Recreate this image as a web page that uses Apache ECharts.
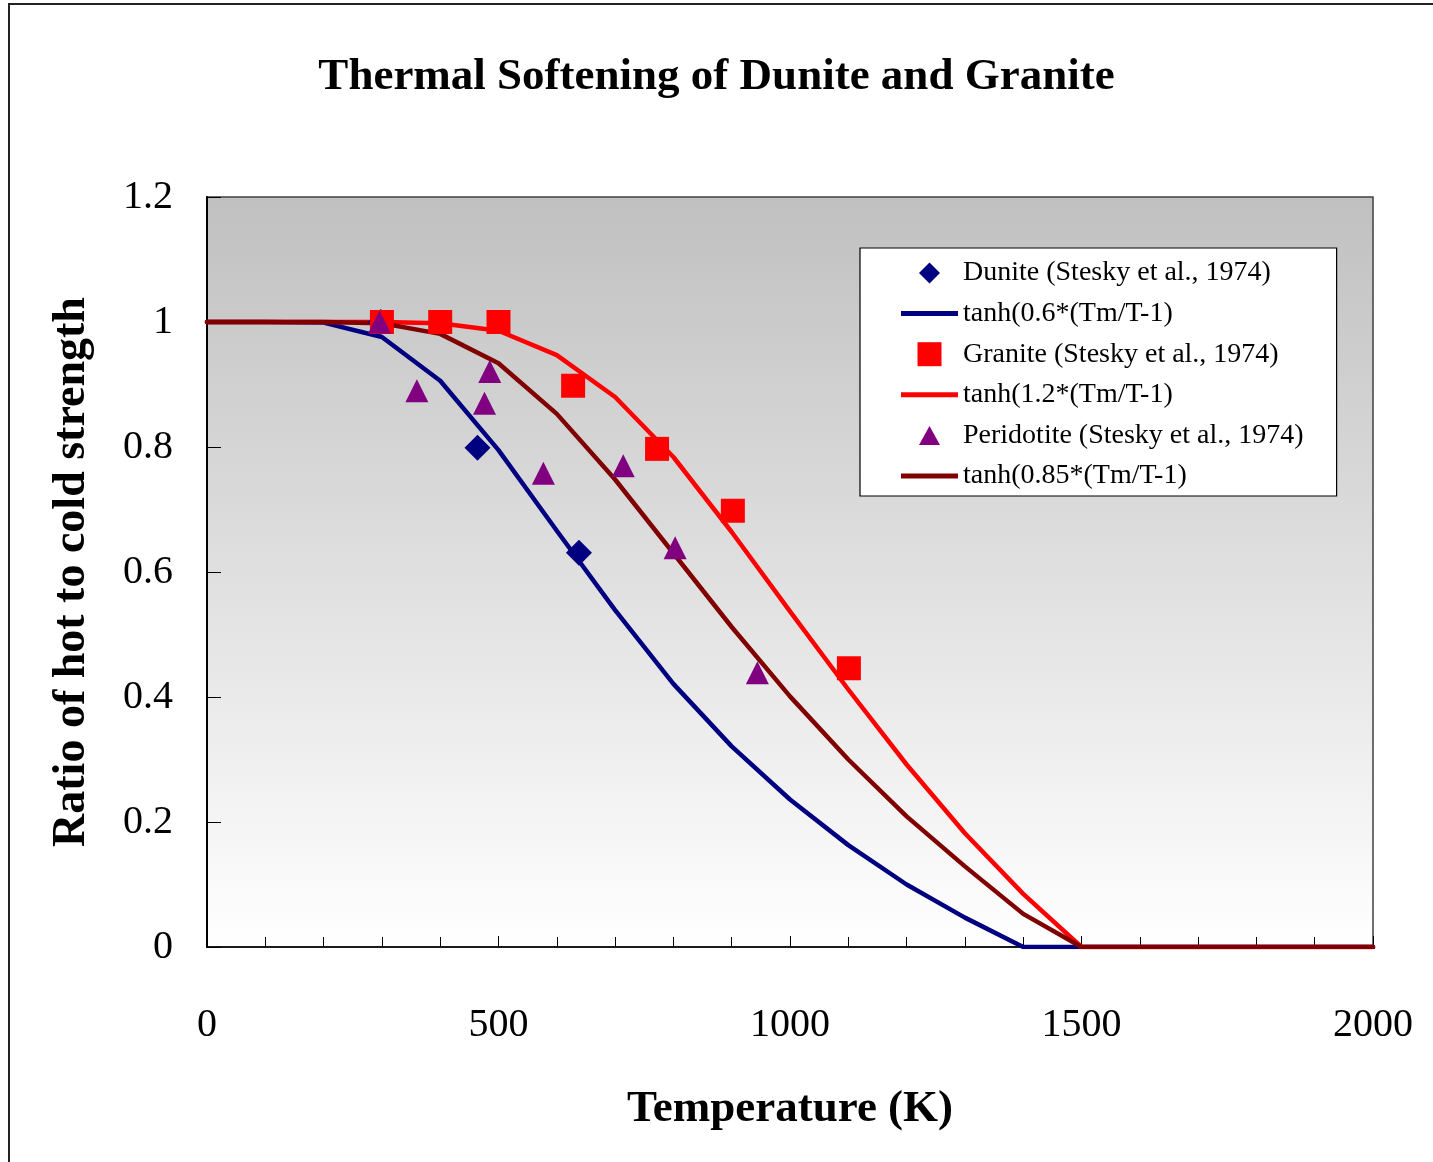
<!DOCTYPE html>
<html>
<head>
<meta charset="utf-8">
<script src="https://cdn.jsdelivr.net/npm/echarts@6/dist/echarts.min.js"></script>
<style>
html,body{margin:0;padding:0;background:#fff;}
#chart{width:1433px;height:1162px;}
</style>
</head>
<body>
<div id="chart"></div>
<script>
// Temperature grid for the model curves (K)
const temps = [0,100,200,300,400,500,600,700,800,900,1000,1100,1200,1300,1400,1500,1600,1700,1800,1900,2000];
// Model curves
const curveDunite    = [1.0,1.0,0.999,0.976,0.906,0.795,0.666,0.539,0.421,0.321,0.236,0.163,0.100,0.047,0,0,0,0,0,0,0];
const curveGranite   = [1.0,1.0,1.0,1.0,0.998,0.986,0.947,0.880,0.784,0.664,0.537,0.412,0.292,0.182,0.085,0,0,0,0,0,0];
const curvePeridot   = [1.0,1.0,1.0,0.998,0.981,0.934,0.853,0.748,0.630,0.512,0.401,0.300,0.209,0.129,0.053,0,0,0,0,0,0];
// Measured points (T, ratio)
const duniteT = [298,464,638];
const duniteV = [1.0,0.799,0.631];
const graniteT = [300,400,500,628,772,902,1101];
const graniteV = [1.0,1.0,1.0,0.898,0.797,0.698,0.446];
const peridT = [296,360,476,485,577,714,803,944];
const peridV = [1.0,0.890,0.870,0.921,0.758,0.770,0.639,0.439];
// Labels
const seriesNames = [
  'Dunite (Stesky et al., 1974)',
  'tanh(0.6*(Tm/T-1)',
  'Granite (Stesky et al., 1974)',
  'tanh(1.2*(Tm/T-1)',
  'Peridotite (Stesky et al., 1974)',
  'tanh(0.85*(Tm/T-1)'
];
const titleText = 'Thermal Softening of Dunite and Granite';
const xName = 'Temperature (K)';
const yName = 'Ratio of hot to cold strength';

const zip = (a,b) => a.map((v,i)=>[v,b[i]]);
const FONT = '"Liberation Serif", "Times New Roman", serif';
const LINE_ICON = 'path://M0,0 L114,0 L114,10 L0,10 Z';
const DIAMOND_ICON = 'path://M0,0 M24,24 M12,1.5 L22.5,12 L12,22.5 L1.5,12 Z';
const SQUARE_ICON = 'path://M0,0 L24,0 L24,24 L0,24 Z';
const TRIANGLE_ICON = 'path://M0,0 M24,24 M12,2.5 L22.5,21.5 L1.5,21.5 Z';

const chart = echarts.init(document.getElementById('chart'), null, {renderer:'canvas'});
const lineCommon = (name, ys, color) => ({
  name, type:'line', data: zip(temps, ys), symbol:'none', showSymbol:false,
  lineStyle:{color, width:4.5, join:'round', cap:'round'}, itemStyle:{color}, z:2, animation:false
});
const scatterCommon = (name, xs, ys, color, symbol, size) => ({
  name, type:'scatter', data: zip(xs, ys), symbol, symbolSize:size,
  itemStyle:{color, opacity:1}, z:3, animation:false
});

chart.setOption({
  animation:false,
  backgroundColor:'#ffffff',
  title:{
    text:titleText, left:'center', top:50,
    textStyle:{fontFamily:FONT, fontSize:45, fontWeight:'bold', color:'#000'}
  },
  graphic:[{
    type:'rect', shape:{x:9, y:4, width:1600, height:1400},
    style:{fill:'none', stroke:'#222', lineWidth:2}, z:-1, silent:true
  }],
  grid:{
    left:207, top:197, width:1166, height:750, show:true,
    borderColor:'#404040', borderWidth:1.5,
    backgroundColor:{type:'linear', x:0, y:0, x2:0, y2:1,
      colorStops:[{offset:0, color:'#c0c0c0'},{offset:1, color:'#ffffff'}]}
  },
  legend:{
    orient:'vertical', left:860, top:248,
    padding:[11, 33, 6, 41],
    itemWidth:57, itemHeight:24, itemGap:12.6,
    symbolKeepAspect:true,
    backgroundColor:'#ffffff', borderColor:'#000', borderWidth:1.2,
    textStyle:{fontFamily:FONT, fontSize:28, color:'#000', lineHeight:27},
    data:[
      {name:seriesNames[0], icon:DIAMOND_ICON},
      {name:seriesNames[1], icon:LINE_ICON},
      {name:seriesNames[2], icon:SQUARE_ICON},
      {name:seriesNames[3], icon:LINE_ICON},
      {name:seriesNames[4], icon:TRIANGLE_ICON},
      {name:seriesNames[5], icon:LINE_ICON}
    ]
  },
  xAxis:{
    type:'value', min:0, max:2000, interval:500,
    name:xName, nameLocation:'middle', nameGap:140,
    nameTextStyle:{fontFamily:FONT, fontSize:45, fontWeight:'bold', color:'#000'},
    axisLine:{show:true, onZero:false, lineStyle:{color:'#000', width:1.5}},
    axisTick:{show:true, inside:true, length:11, lineStyle:{color:'#000', width:1}},
    minorTick:{show:true, splitNumber:5, length:10, lineStyle:{color:'#000', width:1}},
    axisLabel:{fontFamily:FONT, fontSize:40, color:'#000', margin:58, formatter:(v)=>String(v)},
    splitLine:{show:false}
  },
  yAxis:{
    type:'value', min:0, max:1.2, interval:0.2,
    name:yName, nameLocation:'middle', nameGap:112,
    nameTextStyle:{fontFamily:FONT, fontSize:46, fontWeight:'bold', color:'#000'},
    axisLine:{show:true, lineStyle:{color:'#000', width:2}},
    axisTick:{show:true, inside:true, length:14, lineStyle:{color:'#000', width:1}},
    axisLabel:{fontFamily:FONT, fontSize:40, color:'#000', margin:34},
    splitLine:{show:false}
  },
  series:[
    scatterCommon(seriesNames[0], duniteT, duniteV, '#000080', 'diamond', 26),
    lineCommon(seriesNames[1], curveDunite, '#000080'),
    scatterCommon(seriesNames[2], graniteT, graniteV, '#ff0000', 'rect', 24),
    lineCommon(seriesNames[3], curveGranite, '#ff0000'),
    scatterCommon(seriesNames[4], peridT, peridV, '#800080', 'triangle', 23),
    lineCommon(seriesNames[5], curvePeridot, '#800000')
  ]
});
</script>
</body>
</html>
